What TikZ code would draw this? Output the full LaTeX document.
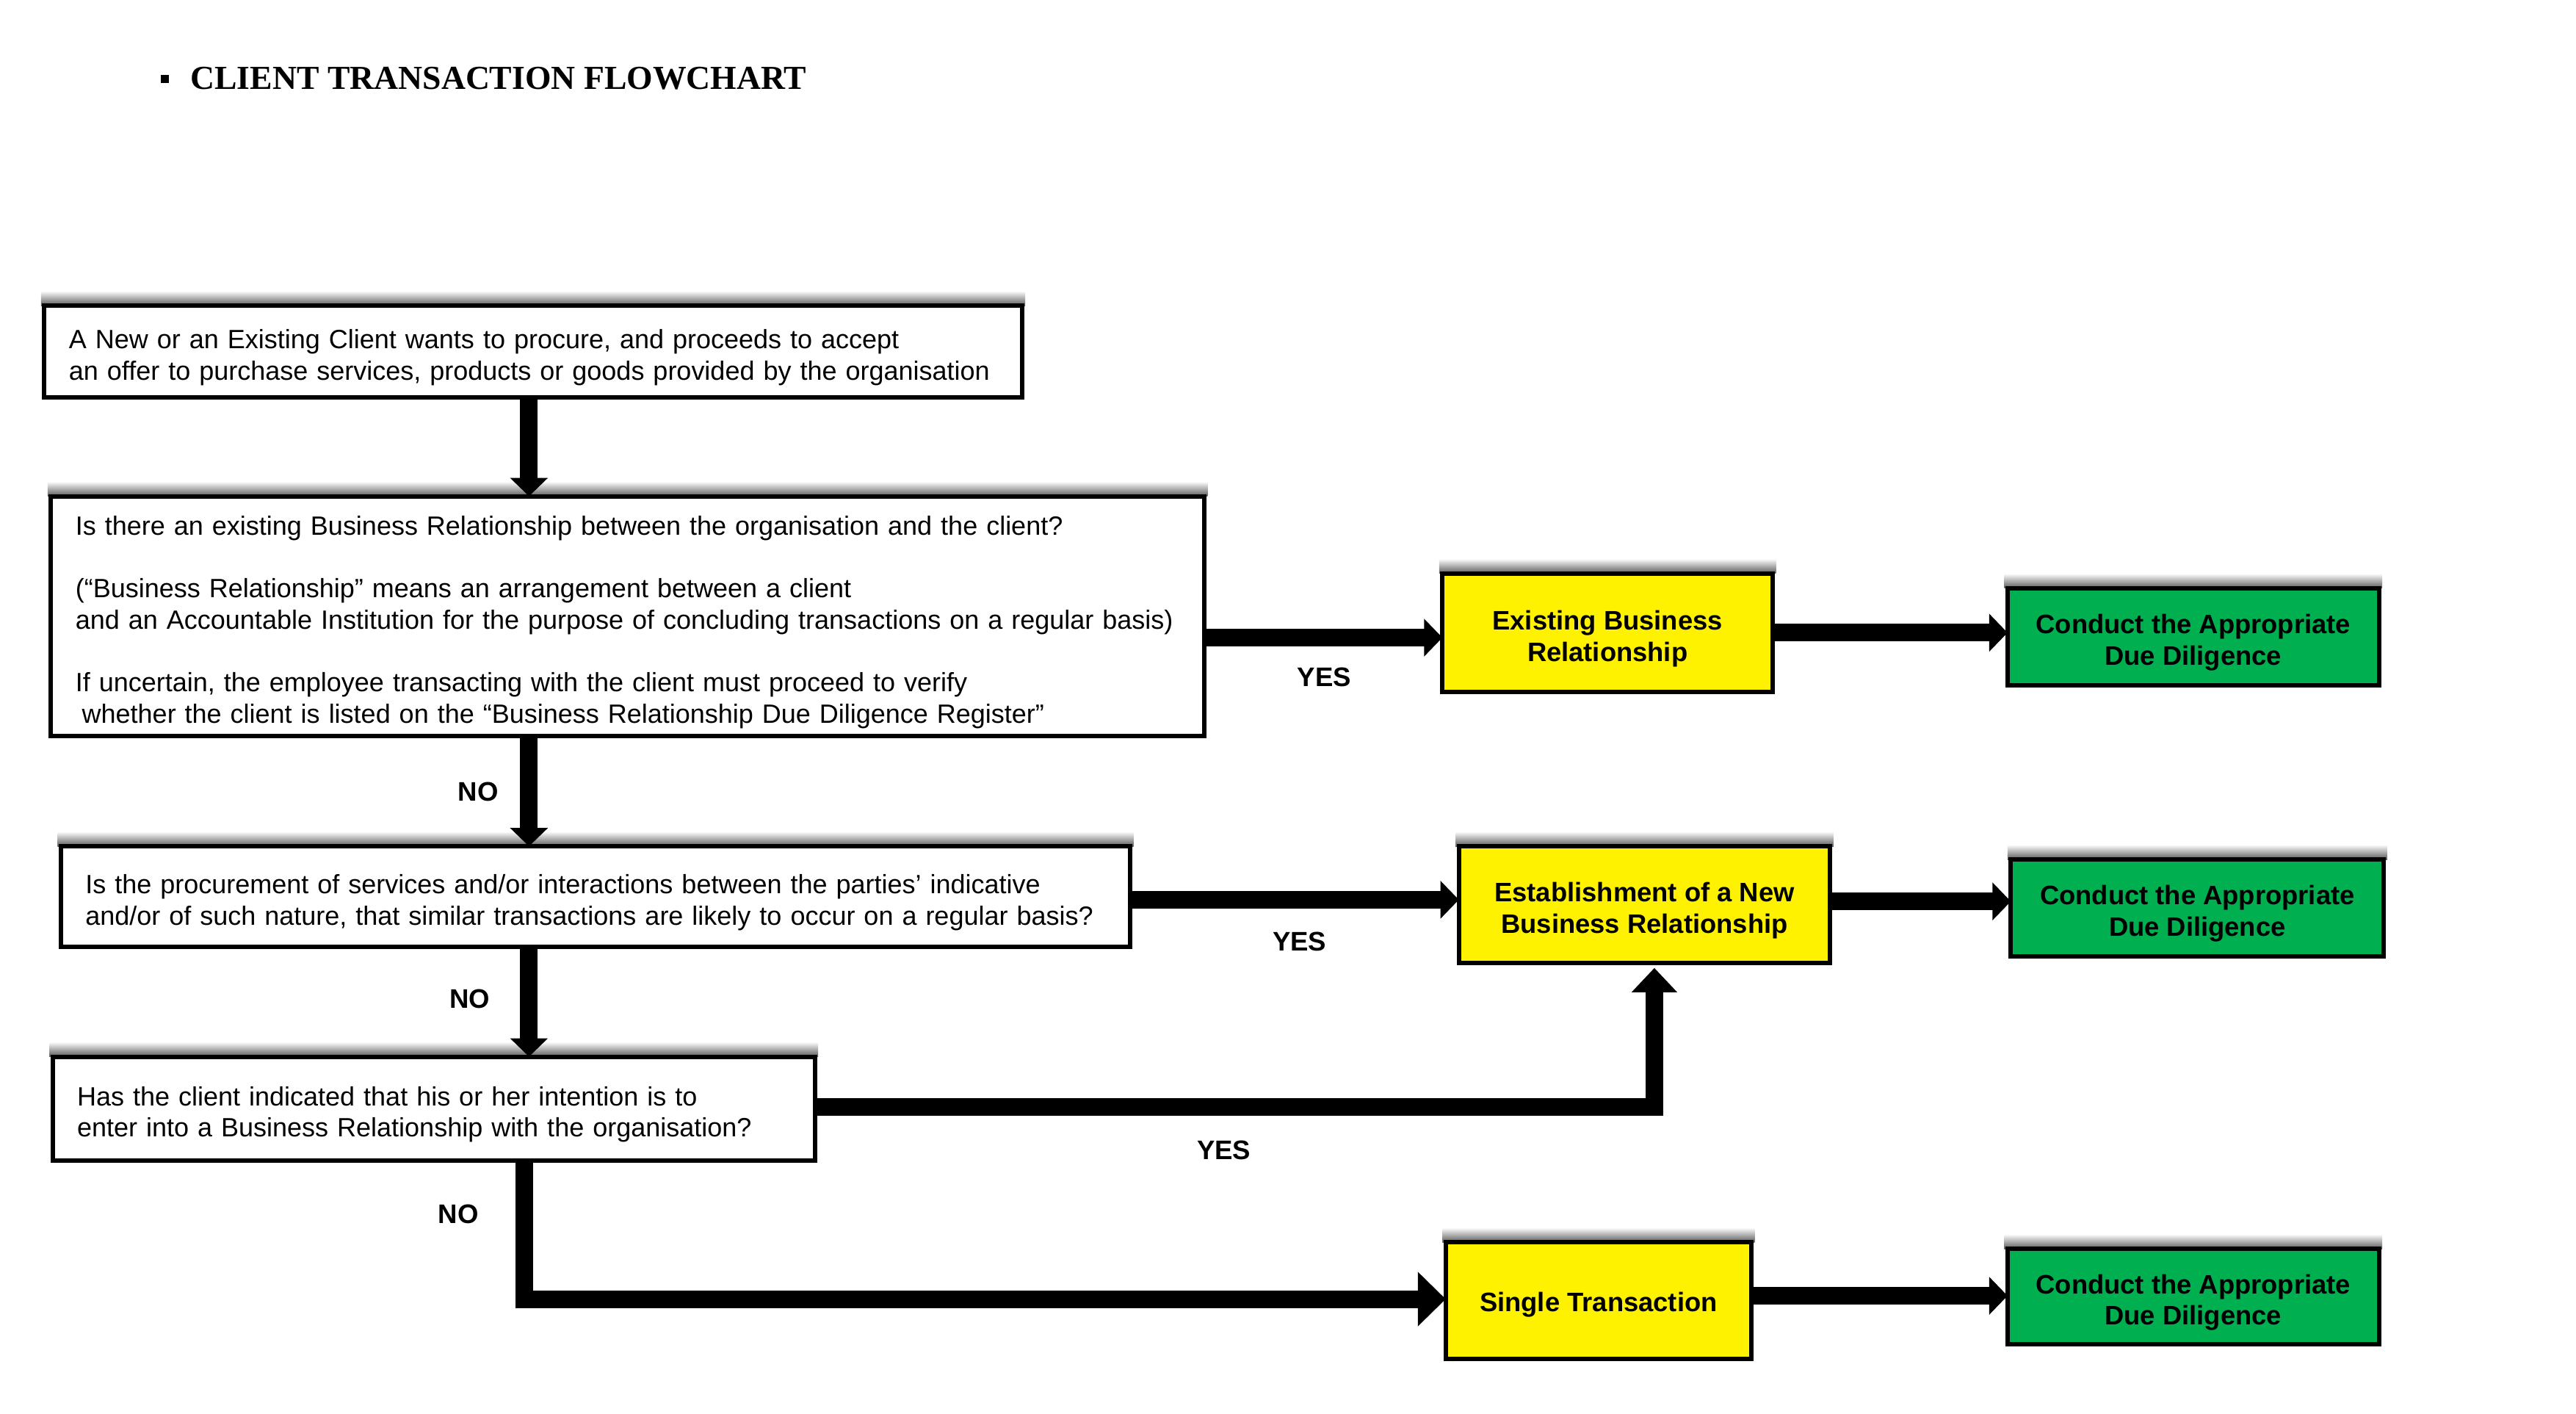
\documentclass[tikz,border=0pt]{standalone}
\usepackage{fontspec}
\setmainfont{Liberation Sans}
\newfontfamily\titlefont{Liberation Serif}
\usetikzlibrary{arrows.meta,backgrounds,calc}
\def\u{0.0223724cm}
\newcommand\li[1]{\mbox{#1}}
\newcommand\fl[1]{\mbox{\rule{0pt}{12pt}#1}}
\definecolor{ddgreen}{RGB}{0,176,80}
\begin{document}
\begin{tikzpicture}[x=\u, y=-\u,
  every node/.style={outer sep=0pt},
  qbox/.style 2 args={draw=black, line width=1.7pt, fill=white,
    minimum width=#1*\u, minimum height=#2*\u, text width=#1*\u-30*\u,
    inner xsep=15*\u, inner ysep=0pt, align=left, anchor=north west,
    font=\fontsize{10.24}{12.16}\selectfont},
  ybox/.style 2 args={draw=black, line width=1.7pt, fill=yellow,
    minimum width=#1*\u, minimum height=#2*\u, inner sep=0pt,
    align=center, anchor=north west,
    font=\fontsize{10.35}{12.16}\selectfont\bfseries},
  gbox/.style 2 args={draw=black, line width=1.7pt, fill=ddgreen,
    minimum width=#1*\u, minimum height=#2*\u, inner sep=0pt,
    align=center, anchor=north west,
    font=\fontsize{10.35}{12.16}\selectfont\bfseries},
  lbl/.style={font=\fontsize{10.4}{12}\selectfont\bfseries, inner sep=0pt},
  arr/.style={draw=black, line width=6.8pt, -{Triangle[length=0.25cm,width=0.5cm]}},
  arrbig/.style={draw=black, line width=6.8pt, -{Triangle[length=0.38cm,width=0.72cm]}},
  arrmid/.style={draw=black, line width=6.8pt, -{Triangle[length=0.33cm,width=0.6cm]}},
  shadow/.style={top color=white, bottom color=black!65}
]
\useasboundingbox (0,0) rectangle (1568,860);

% title
\fill (98,45.5) rectangle (103,50.5);
\node[anchor=base west, font=\titlefont\fontsize{13}{15}\selectfont\bfseries, inner sep=0pt] (title) at (116,54.5) {CLIENT TRANSACTION FLOWCHART};

% question boxes
\node[qbox={595}{56}] (b1) at (27,186) {\fl{A New or an Existing Client wants to procure, and proceeds to accept}\\\li{an offer to purchase services, products or goods provided by the organisation}};
\node[qbox={702}{146}] (b2) at (31,302) {\fl{Is there an existing Business Relationship between the organisation and the client?}\\[12.16pt]
\li{(“Business Relationship” means an arrangement between a client}\\\li{and an Accountable Institution for the purpose of concluding transactions on a regular basis)}\\[12.16pt]
\li{If uncertain, the employee transacting with the client must proceed to verify}\\\li{\hspace*{2.5pt}whether the client is listed on the “Business Relationship Due Diligence Register”}};
\node[qbox={651}{61}] (b3) at (37,515) {\fl{Is the procurement of services and/or interactions between the parties’ indicative}\\\li{and/or of such nature, that similar transactions are likely to occur on a regular basis?}};
\node[qbox={464}{63}] (b4) at (32,643) {\fl{Has the client indicated that his or her intention is to}\\\li{enter into a Business Relationship with the organisation?}};

% outcome boxes
\node[ybox={201}{72}] (y1) at (878,349) {\rule{0pt}{12pt}Existing Business\\Relationship};
\node[ybox={226}{71}] (y2) at (888,515) {\rule{0pt}{12pt}Establishment of a New\\Business Relationship};
\node[ybox={186}{71}] (y3) at (880,756) {\rule{0pt}{10.5pt}Single Transaction};
\node[gbox={226}{59}] (g1) at (1222,358) {\rule{0pt}{12pt}Conduct the Appropriate\\Due Diligence};
\node[gbox={227}{59}] (g2) at (1224,523) {\rule{0pt}{12pt}Conduct the Appropriate\\Due Diligence};
\node[gbox={226}{58}] (g3) at (1222,760) {\rule{0pt}{12pt}Conduct the Appropriate\\Due Diligence};

% shadows and background
\begin{pgfonlayer}{background}
\fill[white] (0,0) rectangle (1568,860);
\foreach \n in {b1,b2,b3,b4,y1,y2,y3,g1,g2,g3}
  \shade[shadow] ($(\n.north west)+(-2,-9)$) rectangle ($(\n.north east)+(2,0)$);
\end{pgfonlayer}

\coordinate (colA) at (322,0);
\coordinate (colB) at (319,0);
\coordinate (colC) at (1007,0);

% connectors
\draw[arr] (b1.south -| colA) -- (b2.north -| colA);
\draw[arr] (b2.south -| colA) -- (b3.north -| colA);
\draw[arr] (b3.south -| colA) -- (b4.north -| colA);
\draw[arr] ($(y1.west -| b2.east)+(0,3)$) -- ($(y1.west)+(0,3)$);
\draw[arr] (y1.east) -- (y1.east -| g1.west);
\draw[arr] ($(b3.east)+(0,2)$) -- ($(b3.east -| y2.west)+(0,2)$);
\draw[arr] ($(y2.east)+(0,-2)$) -- ($(y2.east -| g2.west)+(0,-2)$);
\draw[arrmid] ($(b4.east)+(0,-1)$) -| ($(y2.south -| colC)+(0,3)$);
\draw[arrbig] (b4.south -| colB) |- ($(y3.west)+(0,-1)$);
\draw[arr] ($(y3.east)+(0,-3)$) -- ($(y3.east -| g3.west)+(0,-3)$);

% labels
\node[lbl] (yes1) at (806,412) {YES};
\node[lbl] (yes2) at (791,573) {YES};
\node[lbl] (yes3) at (745,700) {YES};
\node[lbl] (no1) at (291,482) {NO};
\node[lbl] (no2) at (286,608) {NO};
\node[lbl] (no3) at (279,739) {NO};
\end{tikzpicture}
\end{document}
